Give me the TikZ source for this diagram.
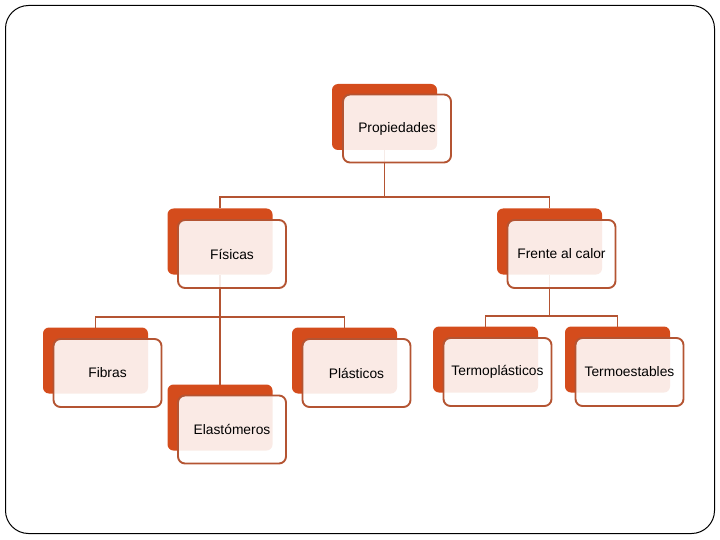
\documentclass[tikz,border=0pt]{standalone}
\usepackage{fontspec}
\setmainfont{Liberation Sans}
\usetikzlibrary{calc}
\definecolor{boxorange}{RGB}{212,76,28}
\definecolor{linebrown}{RGB}{180,84,50}
\tikzset{
  backbox/.style={rectangle, rounded corners=6pt, fill=boxorange, draw=none,
    minimum width=105pt, minimum height=66pt, inner sep=0pt, outer sep=0pt},
  frontbox/.style={rectangle, rounded corners=7pt, fill=white, fill opacity=0.885,
    text opacity=1, draw=linebrown, draw opacity=1, line width=1.9pt,
    minimum width=108pt, minimum height=68pt, inner sep=0pt, outer sep=0pt,
    font=\fontsize{13.8pt}{16pt}\selectfont},
  conn/.style={draw=linebrown, line width=1.9pt},
  frame/.style={draw=black, line width=1pt, rounded corners=23pt}
}
\begin{document}
\begin{tikzpicture}[x=1pt,y=-1pt]
\useasboundingbox (0,0) rectangle (720,540);
\draw[frame] (5.5,5.5) rectangle (714.5,533.5);
% back boxes
\node[backbox] (p)  at (384.5,117) {};
\node[backbox] (f)  at (220,241.5) {};
\node[backbox] (fc) at (549.5,241.5) {};
\node[backbox] (fi) at (95.5,360.5) {};
\node[backbox] (pl) at (344.5,360.5) {};
\node[backbox] (el) at (220,417.5) {};
\node[backbox] (tp) at (485.5,359.5) {};
\node[backbox] (te) at (617.5,359.5) {};
% connectors
\coordinate (pj) at (384.5,197);
\coordinate (fj) at (220,317);
\coordinate (cj) at (549.5,316);
\draw[conn] (p.south) -- (pj);
\draw[conn] (f.north) |- (pj) -| (fc.north);
\draw[conn] (f.south) -- (el.north);
\draw[conn] (fi.north) |- (fj) -| (pl.north);
\draw[conn] (fc.south) -- (cj);
\draw[conn] (tp.north) |- (cj) -| (te.north);
% front boxes
\node[frontbox] (pF)  at (397,128.5) {Propiedades};
\node[frontbox] (fF)  at (232,254) {Físicas};
\node[frontbox] (fcF) at (561.5,254) {Frente al calor};
\node[frontbox] (fiF) at (107.5,373) {Fibras};
\node[frontbox] (plF) at (356.5,373) {Plásticos};
\node[frontbox] (elF) at (232,429.5) {Elastómeros};
\node[frontbox] (tpF) at (497.5,372) {Termoplásticos};
\node[frontbox] (teF) at (629.5,372) {Termoestables};
\end{tikzpicture}
\end{document}
